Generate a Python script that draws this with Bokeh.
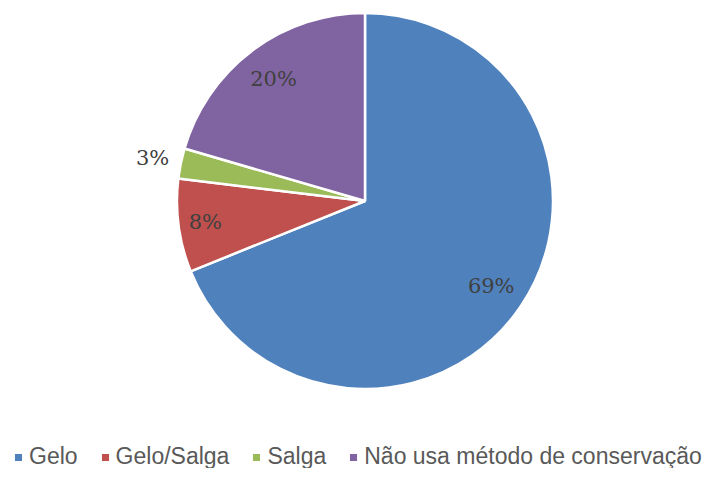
import math
from bokeh.plotting import figure
from bokeh.models import ColumnDataSource, Range1d, Legend, LegendItem
from bokeh.core.properties import value
from bokeh.embed import file_html
from bokeh.resources import INLINE

# Data
categories = ["Gelo", "Gelo/Salga", "Salga", "Não usa método de conservação"]
values = [68.9, 8.0, 2.6, 20.5]
labels = ["69%", "8%", "3%", "20%"]
colors = ["#4F81BD", "#C0504D", "#9BBB59", "#8064A2"]
label_radius_factor = [0.81, 0.857, 1.153, 0.81]

W, H = 712, 468
cx, cy, R = 364.5, H - 200.5, 188

total = sum(values)
starts, ends, mids = [], [], []
acc = 0.0
for v in values:
    f0 = acc / total
    acc += v
    f1 = acc / total
    starts.append(math.pi / 2 - 2 * math.pi * f0)
    ends.append(math.pi / 2 - 2 * math.pi * f1)
    mids.append(math.pi / 2 - 2 * math.pi * (f0 + f1) / 2)

src = ColumnDataSource(dict(
    cat=categories, start=starts, end=ends, color=colors,
    x=[cx] * len(values), y=[cy] * len(values),
))

lx = [cx + R * k * math.cos(a) for k, a in zip(label_radius_factor, mids)]
ly = [cy + R * k * math.sin(a) for k, a in zip(label_radius_factor, mids)]
lsrc = ColumnDataSource(dict(x=lx, y=ly, text=labels))

p = figure(width=W, height=H, output_backend="svg", toolbar_location=None,
           x_range=Range1d(0, W), y_range=Range1d(0, H), min_border=0)
p.axis.visible = False
p.grid.visible = False
p.outline_line_color = None
p.background_fill_color = "white"
p.border_fill_color = "white"

wr = p.wedge(x="x", y="y", radius=R, start_angle="start", end_angle="end",
             direction="clock", fill_color="color", line_color="white",
             line_width=2.5, source=src)

p.text(x="x", y="y", text="text", source=lsrc, text_align="center",
       text_baseline="middle", text_font=value("DejaVu Serif"),
       text_font_size="21px", text_color="#404040")

items = [LegendItem(label=c, renderers=[wr], index=i) for i, c in enumerate(categories)]
legend = Legend(items=items, orientation="horizontal", location=(12, -2),
                glyph_width=12, glyph_height=12, label_standoff=5, spacing=21,
                padding=0, margin=0, border_line_color=None,
                background_fill_alpha=0, label_text_font="Liberation Sans",
                label_text_font_size="23px", label_text_color="#595959")
p.add_layout(legend, "center")

open("out.html", "w").write(file_html(p, INLINE))
